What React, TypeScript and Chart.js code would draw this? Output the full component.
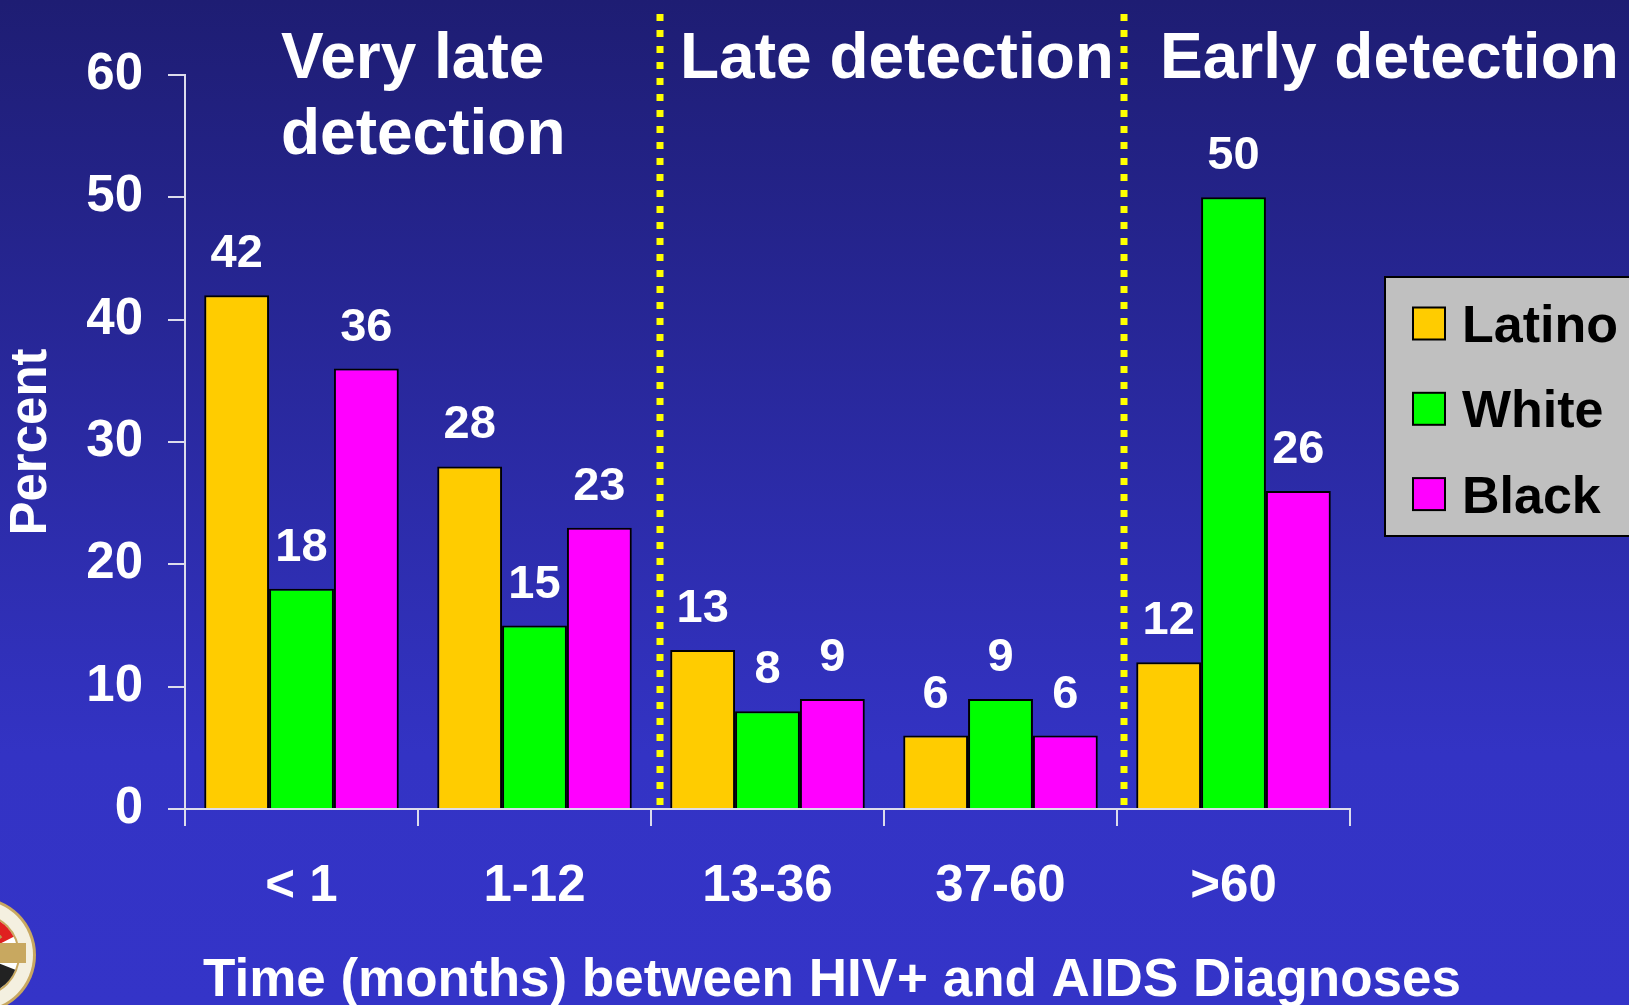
import React, { useEffect, useRef } from 'react';
import { Chart, registerables } from 'chart.js';

Chart.register(...registerables);

// ---- data ----
const categories = ['< 1', '1-12', '13-36', '37-60', '>60'];
const seriesNames = ['Latino', 'White', 'Black'];
const latinoValues = [42, 28, 13, 6, 12];
const whiteValues = [18, 15, 8, 9, 50];
const blackValues = [36, 23, 9, 6, 26];
const seriesColors = ['#FFCC00', '#00FF00', '#FF00FF'];
const yTickValues = [0, 10, 20, 30, 40, 50, 60];
const sectionTitles = [['Very late', 'detection'], ['Late detection'], ['Early detection']];
const separatorValues = [1.54, 3.53]; // positions on the category scale
const xAxisTitle = 'Time (months) between HIV+ and AIDS Diagnoses';
const yAxisTitle = 'Percent';

// ---- layout / style constants ----
const W = 1629;
const H = 1005;
const FONT = '"Liberation Sans", Arial, Helvetica, sans-serif';
const AXIS_COLOR = '#dcdcec';
const sectionTitleX = [281, 680, 1160];
const sectionTitleBaseline = 78;
const sectionTitleLineGap = 76;

const bgPlugin = {
  id: 'bg',
  beforeDraw(chart: any) {
    const ctx = chart.ctx;
    const g = ctx.createLinearGradient(0, 0, 0, H);
    g.addColorStop(0, '#1e1d73');
    g.addColorStop(0.75, '#3333c4');
    g.addColorStop(1, '#3434c8');
    ctx.save();
    ctx.fillStyle = g;
    ctx.fillRect(0, 0, W, H);
    ctx.restore();
  },
};

const decorPlugin = {
  id: 'decor',
  afterDraw(chart: any) {
    const ctx = chart.ctx;
    const xs = chart.scales.x;
    const area = chart.chartArea;
    ctx.save();

    // dotted separators
    ctx.strokeStyle = '#FFFF00';
    ctx.lineWidth = 7;
    ctx.setLineDash([7, 9]);
    ctx.lineCap = 'butt';
    separatorValues.forEach((v) => {
      const px = Math.round(xs.getPixelForValue(v));
      ctx.beginPath();
      ctx.moveTo(px, 14);
      ctx.lineTo(px, area.bottom - 2);
      ctx.stroke();
    });
    ctx.setLineDash([]);

    // section titles
    ctx.fillStyle = '#ffffff';
    ctx.font = `bold 64px ${FONT}`;
    ctx.textAlign = 'left';
    ctx.textBaseline = 'alphabetic';
    sectionTitles.forEach((lines, i) => {
      lines.forEach((line, j) => {
        ctx.fillText(line, sectionTitleX[i], sectionTitleBaseline + j * sectionTitleLineGap);
      });
    });

    // data labels
    ctx.font = `bold 47px ${FONT}`;
    ctx.textAlign = 'center';
    chart.data.datasets.forEach((ds: any, i: number) => {
      const meta = chart.getDatasetMeta(i);
      meta.data.forEach((bar: any, j: number) => {
        ctx.fillText(String(ds.data[j]), bar.x, bar.y - 28);
      });
    });

    // x axis title
    ctx.font = `bold 53px ${FONT}`;
    ctx.textAlign = 'center';
    ctx.fillText(xAxisTitle, 832, 996);

    // legend
    const lx = 1385, ly = 277, lw = 260, lh = 259;
    ctx.fillStyle = '#c0c0c0';
    ctx.fillRect(lx, ly, lw, lh);
    ctx.strokeStyle = '#000000';
    ctx.lineWidth = 2;
    ctx.strokeRect(lx, ly, lw, lh);
    ctx.font = `bold 52px ${FONT}`;
    ctx.textAlign = 'left';
    chart.data.datasets.forEach((ds: any, i: number) => {
      const cy = 323.5 + i * 85.3;
      ctx.fillStyle = ds.backgroundColor;
      ctx.fillRect(1413, cy - 16, 32, 32);
      ctx.strokeStyle = '#000';
      ctx.lineWidth = 2;
      ctx.strokeRect(1413, cy - 16, 32, 32);
      ctx.fillStyle = '#000';
      ctx.fillText(ds.label, 1462, cy + 18.5);
    });

    // seal (decorative, bottom-left)
    const sx = -22, sy = 955;
    ctx.beginPath(); ctx.arc(sx, sy, 58, 0, Math.PI * 2); ctx.fillStyle = '#c8a860'; ctx.fill();
    ctx.beginPath(); ctx.arc(sx, sy, 55, 0, Math.PI * 2); ctx.fillStyle = '#f4f0e0'; ctx.fill();
    ctx.beginPath(); ctx.arc(sx, sy, 42, 0, Math.PI * 2); ctx.fillStyle = '#c8a860'; ctx.fill();
    ctx.beginPath(); ctx.arc(sx, sy, 40, 0, Math.PI * 2); ctx.fillStyle = '#ffffff'; ctx.fill();
    ctx.beginPath(); ctx.arc(sx, sy, 40, -Math.PI * 0.5, -Math.PI * 0.15); ctx.lineTo(sx, sy); ctx.closePath(); ctx.fillStyle = '#e02020'; ctx.fill();
    ctx.beginPath(); ctx.arc(sx, sy, 30, -Math.PI * 0.45, -Math.PI * 0.2); ctx.lineTo(sx, sy); ctx.closePath(); ctx.fillStyle = '#b89850'; ctx.fill();
    ctx.beginPath(); ctx.arc(sx, sy, 40, Math.PI * 0.12, Math.PI * 0.5); ctx.lineTo(sx, sy); ctx.closePath(); ctx.fillStyle = '#222'; ctx.fill();
    ctx.fillStyle = '#c8a860';
    ctx.fillRect(0, sy - 12, 26, 20);
    ctx.restore();
  },
};

export default function App() {
  const ref = useRef<HTMLCanvasElement | null>(null);

  useEffect(() => {
    document.body.style.margin = '0';
    const canvas = ref.current;
    if (!canvas) return;
    Chart.defaults.font.family = FONT;
    const valuesBySeries = [latinoValues, whiteValues, blackValues];
    const chart = new Chart(canvas, {
      type: 'bar',
      data: {
        labels: categories,
        datasets: seriesNames.map((name, i) => ({
          label: name,
          data: valuesBySeries[i],
          backgroundColor: seriesColors[i],
          borderColor: '#000000',
          borderWidth: 2,
          categoryPercentage: 0.835,
          barPercentage: 1.0,
        })),
      },
      options: {
        responsive: false,
        animation: false,
        devicePixelRatio: 1,
        layout: { padding: { top: 75, right: 279, left: 0, bottom: 0 } },
        plugins: { legend: { display: false }, tooltip: { enabled: false }, title: { display: false } },
        scales: {
          x: {
            grid: {
              display: true,
              drawOnChartArea: false,
              drawTicks: true,
              tickLength: 17,
              color: AXIS_COLOR,
              lineWidth: 2,
              offset: true,
            },
            border: { display: true, color: AXIS_COLOR, width: 2 },
            ticks: {
              color: '#ffffff',
              font: { size: 51, weight: 'bold', lineHeight: 1 },
              padding: 35,
              maxRotation: 0,
              autoSkip: false,
            },
            afterFit: (scale: any) => {
              scale.height = 196;
            },
          },
          y: {
            min: 0,
            max: 60,
            afterBuildTicks: (scale: any) => {
              scale.ticks = yTickValues.map((v) => ({ value: v }));
            },
            grid: {
              display: true,
              drawOnChartArea: false,
              drawTicks: true,
              tickLength: 17,
              color: AXIS_COLOR,
              lineWidth: 2,
            },
            border: { display: true, color: AXIS_COLOR, width: 2 },
            ticks: {
              color: '#ffffff',
              font: { size: 51, weight: 'bold', lineHeight: 1 },
              padding: 25,
            },
            title: {
              display: true,
              text: yAxisTitle,
              color: '#ffffff',
              font: { size: 51, weight: 'bold', lineHeight: 1 },
              padding: { top: 6, bottom: 0 },
            },
            afterFit: (scale: any) => {
              scale.width = 185;
            },
          },
        },
      },
      plugins: [bgPlugin, decorPlugin],
    } as any);
    return () => chart.destroy();
  }, []);

  return (
    <div style={{ width: W, height: H, background: 'linear-gradient(#1e1d73, #3333c4 75%, #3434c8)' }}>
      <canvas ref={ref} width={W} height={H} style={{ display: 'block', width: W, height: H }} />
    </div>
  );
}
